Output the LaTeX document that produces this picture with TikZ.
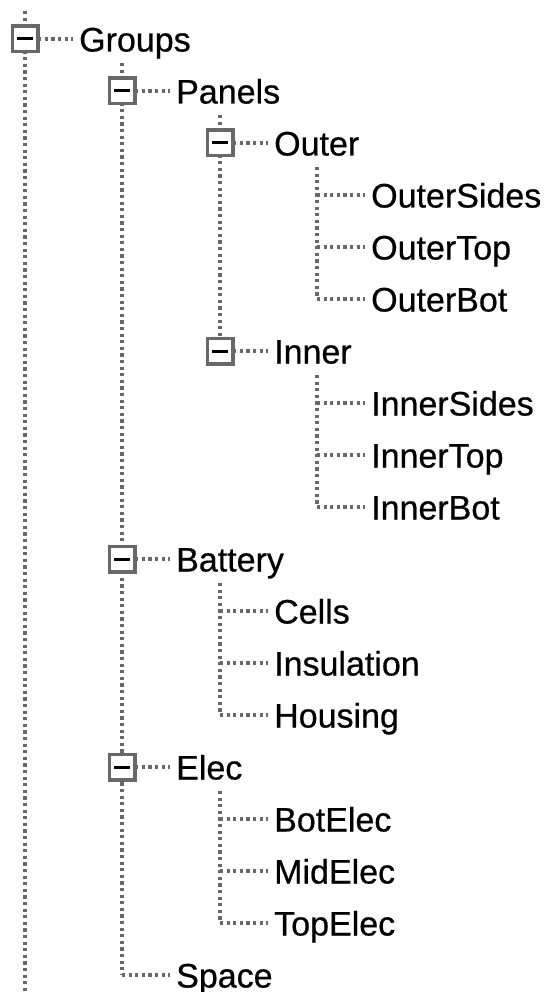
\documentclass[tikz,border=0pt]{standalone}
\usepackage{fontspec}
\setmainfont{Liberation Sans}
\newfontfamily\treefont{Liberation Sans}[FakeBold=0.6]
\usetikzlibrary{backgrounds}
\definecolor{treegray}{RGB}{104,104,104}
\begin{document}
\begin{tikzpicture}[x=1pt,y=-1pt,
  dots/.style={treegray, line width=3.2pt, dash pattern=on 3.2pt off 3.4pt},
  item/.style={anchor=base west, inner sep=0pt, font=\treefont\fontsize{34}{40}\selectfont, text=black},
  tbox/.style={draw=treegray, fill=white, line width=3.4pt, minimum size=25.6pt,
    inner sep=0pt, path picture={\draw[black, line width=3pt]
      ([xshift=-8pt]path picture bounding box.center) --
      ([xshift=8pt]path picture bounding box.center);}}]
\useasboundingbox (0,0) rectangle (548,992);

% expand/collapse boxes
\node[tbox] (bGroups)  at (25,39)   {};
\node[tbox] (bPanels)  at (122,91)  {};
\node[tbox] (bOuter)   at (220,143) {};
\node[tbox] (bInner)   at (220,351) {};
\node[tbox] (bBattery) at (122,559) {};
\node[tbox] (bElec)    at (122,767) {};

% item labels (baseline = row centre + 12.5)
\node[item] (Groups)     at (79,51.5)   {Groups};
\node[item] (Panels)     at (176,103.5) {Panels};
\node[item] (Outer)      at (274,155.5) {Outer};
\node[item] (OuterSides) at (371,207.5) {OuterSides};
\node[item] (OuterTop)   at (371,259.5) {OuterTop};
\node[item] (OuterBot)   at (371,311.5) {OuterBot};
\node[item] (Inner)      at (274,363.5) {Inner};
\node[item] (InnerSides) at (371,415.5) {InnerSides};
\node[item] (InnerTop)   at (371,467.5) {InnerTop};
\node[item] (InnerBot)   at (371,519.5) {InnerBot};
\node[item] (Battery)    at (176,571.5) {Battery};
\node[item] (Cells)      at (274,623.5) {Cells};
\node[item] (Insulation) at (274,675.5) {Insulation};
\node[item] (Housing)    at (274,727.5) {Housing};
\node[item] (Elec)       at (176,779.5) {Elec};
\node[item] (BotElec)    at (274,831.5) {BotElec};
\node[item] (MidElec)    at (274,883.5) {MidElec};
\node[item] (TopElec)    at (274,935.5) {TopElec};
\node[item] (Space)      at (176,987.5) {Space};

% stem ends and leaf junctions
\coordinate (rootTop) at (25,11);
\coordinate (rootBot) at (25,992);
\coordinate (sGroups) at (122,63);
\coordinate (sPanels) at (220,115);
\coordinate (sOuter)  at (317,167);
\coordinate (sInner)  at (317,375);
\coordinate (sBattery) at (220,583);
\coordinate (sElec)   at (220,791);

\coordinate (jOuterSides) at (317,195);
\coordinate (jOuterTop)   at (317,247);
\coordinate (jOuterBot)   at (317,299);
\coordinate (jInnerSides) at (317,403);
\coordinate (jInnerTop)   at (317,455);
\coordinate (jInnerBot)   at (317,507);
\coordinate (jCells)      at (220,611);
\coordinate (jInsulation) at (220,663);
\coordinate (jHousing)    at (220,715);
\coordinate (jBotElec)    at (220,819);
\coordinate (jMidElec)    at (220,871);
\coordinate (jTopElec)    at (220,923);
\coordinate (jSpace)      at (122,975);

\begin{scope}[on background layer]
  % vertical stems
  \draw[dots] (rootTop) -- (rootBot);
  \draw[dots] (sGroups) -- (jSpace);
  \draw[dots] (sPanels) -- (bInner.center);
  \draw[dots] (sOuter) -- (jOuterBot);
  \draw[dots] (sInner) -- (jInnerBot);
  \draw[dots] (sBattery) -- (jHousing);
  \draw[dots] (sElec) -- (jTopElec);
  % horizontal branches
  \draw[dots] (bGroups.center)  -- ([xshift=-6pt]Groups.base west |- bGroups.center);
  \draw[dots] (bPanels.center)  -- ([xshift=-6pt]Panels.base west |- bPanels.center);
  \draw[dots] (bOuter.center)   -- ([xshift=-6pt]Outer.base west |- bOuter.center);
  \draw[dots] (bInner.center)   -- ([xshift=-6pt]Inner.base west |- bInner.center);
  \draw[dots] (bBattery.center) -- ([xshift=-6pt]Battery.base west |- bBattery.center);
  \draw[dots] (bElec.center)    -- ([xshift=-6pt]Elec.base west |- bElec.center);
  \draw[dots] (jOuterSides) -- ([xshift=-6pt]OuterSides.base west |- jOuterSides);
  \draw[dots] (jOuterTop)   -- ([xshift=-6pt]OuterTop.base west |- jOuterTop);
  \draw[dots] (jOuterBot)   -- ([xshift=-6pt]OuterBot.base west |- jOuterBot);
  \draw[dots] (jInnerSides) -- ([xshift=-6pt]InnerSides.base west |- jInnerSides);
  \draw[dots] (jInnerTop)   -- ([xshift=-6pt]InnerTop.base west |- jInnerTop);
  \draw[dots] (jInnerBot)   -- ([xshift=-6pt]InnerBot.base west |- jInnerBot);
  \draw[dots] (jCells)      -- ([xshift=-6pt]Cells.base west |- jCells);
  \draw[dots] (jInsulation) -- ([xshift=-6pt]Insulation.base west |- jInsulation);
  \draw[dots] (jHousing)    -- ([xshift=-6pt]Housing.base west |- jHousing);
  \draw[dots] (jBotElec)    -- ([xshift=-6pt]BotElec.base west |- jBotElec);
  \draw[dots] (jMidElec)    -- ([xshift=-6pt]MidElec.base west |- jMidElec);
  \draw[dots] (jTopElec)    -- ([xshift=-6pt]TopElec.base west |- jTopElec);
  \draw[dots] (jSpace)      -- ([xshift=-6pt]Space.base west |- jSpace);
\end{scope}
\end{tikzpicture}
\end{document}
